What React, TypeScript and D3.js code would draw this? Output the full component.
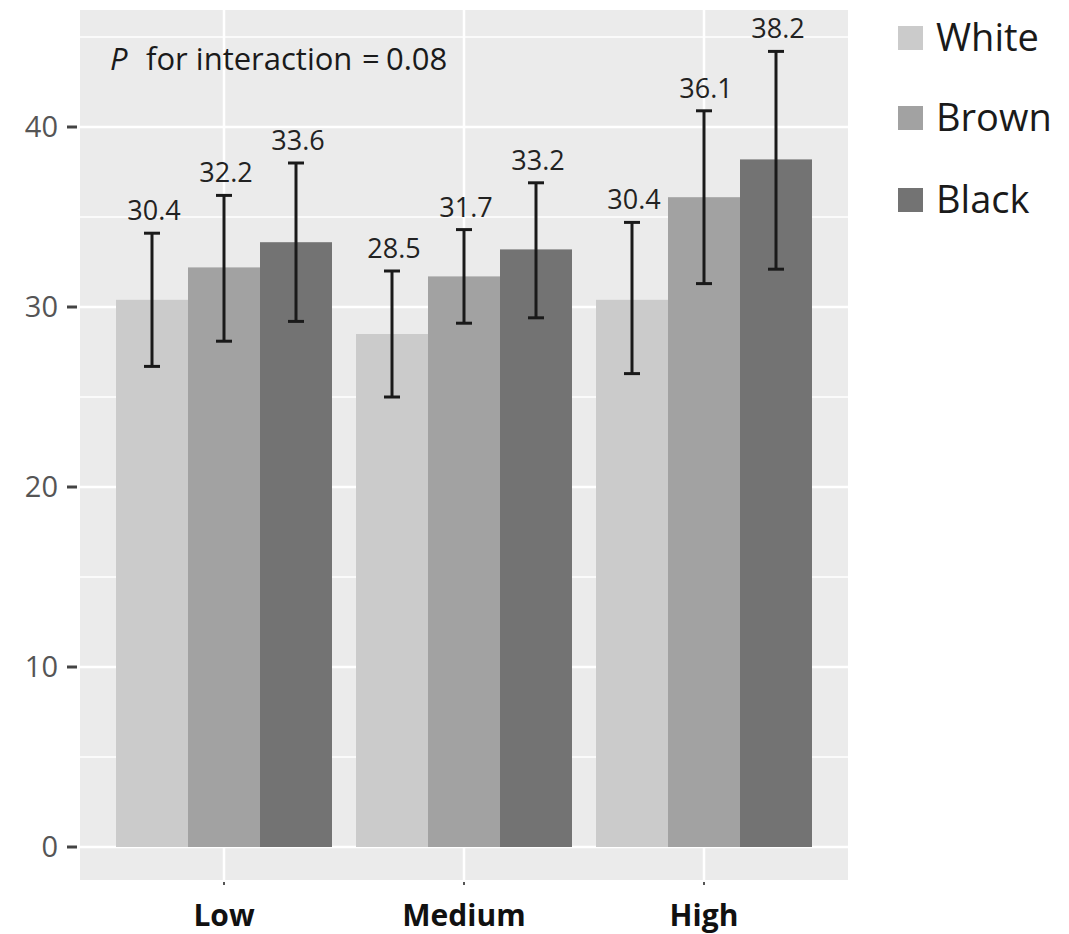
import React from "react";
import * as d3 from "d3";

const categories = ["Low", "Medium", "High"];
const series = ["White", "Brown", "Black"];
const values: number[][] = [
  [30.4, 32.2, 33.6],
  [28.5, 31.7, 33.2],
  [30.4, 36.1, 38.2],
];
const lower: number[][] = [
  [26.7, 28.1, 29.2],
  [25.0, 29.1, 29.4],
  [26.3, 31.3, 32.1],
];
const upper: number[][] = [
  [34.1, 36.2, 38.0],
  [32.0, 34.3, 36.9],
  [34.7, 40.9, 44.2],
];
const yTicks = [0, 10, 20, 30, 40];
const yMinor = [5, 15, 25, 35, 45];
const colors = ["#cbcbcb", "#a2a2a2", "#737373"];

const W = 1069;
const H = 934;
const panel = { left: 80, right: 848, top: 10, bottom: 880 };

export default function App() {
  const y = d3.scaleLinear().domain([-1.833, 46.5]).range([panel.bottom, panel.top]);
  const x = d3
    .scaleBand<string>()
    .domain(categories)
    .range([panel.left, panel.right])
    .paddingInner(0)
    .paddingOuter(0.1);
  const step = x.bandwidth();
  const inner = d3
    .scaleBand<string>()
    .domain(series)
    .range([-0.45 * step, 0.45 * step]);
  const bw = inner.bandwidth();
  const cx = (c: string) => (x(c) as number) + step / 2;
  const font = "'Open Sans', 'Noto Sans', sans-serif";

  return (
    <svg
      width={W}
      height={H}
      style={{ position: "absolute", left: 0, top: 0, background: "#fff" }}
      fontFamily={font}
    >
      <rect
        x={panel.left}
        y={panel.top}
        width={panel.right - panel.left}
        height={panel.bottom - panel.top}
        fill="#ebebeb"
      />
      {yMinor.map((t) => (
        <line key={"m" + t} x1={panel.left} x2={panel.right} y1={y(t)} y2={y(t)} stroke="#fff" strokeWidth={1.5} />
      ))}
      {yTicks.map((t) => (
        <line key={"g" + t} x1={panel.left} x2={panel.right} y1={y(t)} y2={y(t)} stroke="#fff" strokeWidth={2.5} />
      ))}
      {categories.map((c) => (
        <line key={"v" + c} x1={cx(c)} x2={cx(c)} y1={panel.top} y2={panel.bottom} stroke="#fff" strokeWidth={2.5} />
      ))}
      {categories.map((c, i) =>
        series.map((s, j) => (
          <rect
            key={c + s}
            x={cx(c) + (inner(s) as number)}
            y={y(values[i][j])}
            width={bw}
            height={y(0) - y(values[i][j])}
            fill={colors[j]}
          />
        ))
      )}
      {categories.map((c, i) =>
        series.map((s, j) => {
          const mx = cx(c) + (inner(s) as number) + bw / 2;
          const capW = 8;
          return (
            <g key={"e" + c + s} stroke="#1a1a1a" strokeWidth={3}>
              <line x1={mx} x2={mx} y1={y(upper[i][j])} y2={y(lower[i][j])} />
              <line x1={mx - capW} x2={mx + capW} y1={y(upper[i][j])} y2={y(upper[i][j])} />
              <line x1={mx - capW} x2={mx + capW} y1={y(lower[i][j])} y2={y(lower[i][j])} />
            </g>
          );
        })
      )}
      {categories.map((c, i) =>
        series.map((s, j) => {
          const mx = cx(c) + (inner(s) as number) + bw / 2;
          return (
            <text
              key={"l" + c + s}
              x={mx + 2}
              y={y(upper[i][j]) - 13}
              textAnchor="middle"
              fontSize={27}
              fill="#222"
            >
              {values[i][j].toFixed(1)}
            </text>
          );
        })
      )}
      <text y={70} fontSize={31} fill="#1a1a1a">
        <tspan x={110} fontStyle="italic">P</tspan>
        <tspan x={146}>for interaction</tspan>
        <tspan x={362}>=</tspan>
        <tspan x={386}>0.08</tspan>
      </text>
      {yTicks.map((t) => (
        <g key={"yt" + t}>
          <line x1={67} x2={77} y1={y(t)} y2={y(t)} stroke="#444" strokeWidth={3} />
          <text x={58} y={y(t) + 10} textAnchor="end" fontSize={29} fill="#555">
            {t}
          </text>
        </g>
      ))}
      {categories.map((c) => (
        <g key={"xt" + c}>
          <line x1={cx(c)} x2={cx(c)} y1={panel.bottom + 2} y2={panel.bottom + 5} stroke="#555" strokeWidth={2} />
          <text x={cx(c)} y={926} textAnchor="middle" fontSize={30} fontWeight="bold" fill="#111">
            {c}
          </text>
        </g>
      ))}
      {series.map((s, j) => {
        const cy = [38, 118, 200][j];
        return (
          <g key={"lg" + s}>
            <rect x={898} y={cy - 12} width={25} height={24} fill={colors[j]} />
            <text x={936} y={cy + 13} fontSize={38} fill="#1a1a1a">
              {s}
            </text>
          </g>
        );
      })}
    </svg>
  );
}
